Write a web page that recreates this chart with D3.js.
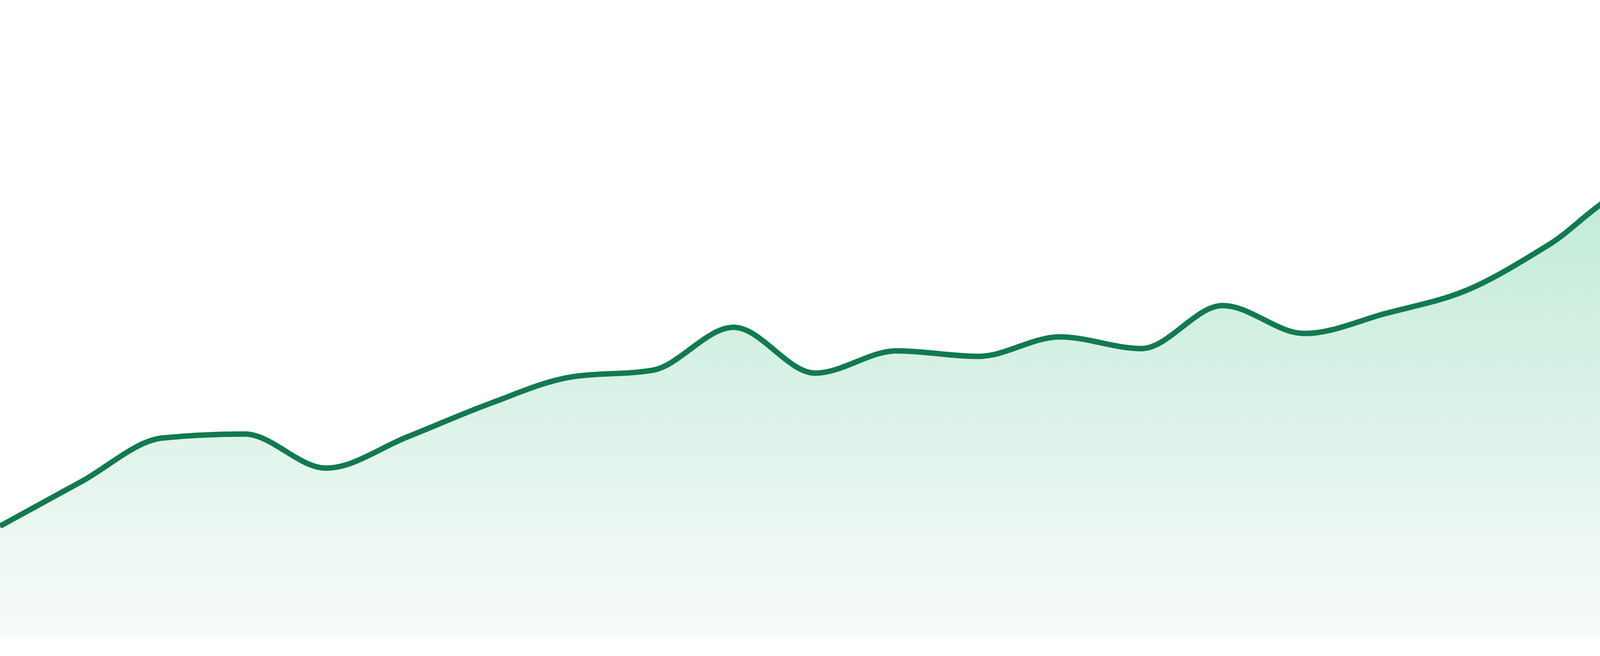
<!DOCTYPE html>
<html>
<head>
<meta charset="utf-8">
<script src="https://cdn.jsdelivr.net/npm/d3@7"></script>
<style>
  html, body { margin: 0; padding: 0; background: #fff; overflow: hidden; }
  svg { display: block; }
</style>
</head>
<body>
<svg id="chart" width="4800" height="1680"></svg>
<script>
const width = 4800
const height = 1680

// one value per step (0..100 scale)
const steps = d3.range(24)
const values = [
  19.9, 27.9, 35.7, 36.4, 30.3, 35.9, 41.8, 46.6,
  47.8, 55.5, 47.3, 51.3, 50.3, 53.8, 51.7, 59.4,
  54.4, 58.0, 62.2, 70.3, 80.0, 81.0, 86.7, 100,
]
const yDomain = [0, 100]

const lineColor = '#127a50'
const fillTop = '#b3e6cf'
const fillBottom = '#f8fbfa'

const x = d3.scaleLinear()
  .domain(d3.extent(steps))
  .range([0, width])

const y = d3.scaleLinear()
  .domain(yDomain)
  .range([1632, 202])

const points = steps.map((s, i) => ({ step: s, value: values[i] }))

const svg = d3.select('#chart')

const grad = svg.append('defs')
  .append('linearGradient')
  .attr('id', 'fade')
  .attr('gradientUnits', 'userSpaceOnUse')
  .attr('x1', 0).attr('x2', 0)
  .attr('y1', y(yDomain[1])).attr('y2', y(yDomain[0]))

grad.append('stop').attr('offset', '0%').attr('stop-color', fillTop)
grad.append('stop').attr('offset', '100%').attr('stop-color', fillBottom)

const area = d3.area()
  .x(d => x(d.step))
  .y0(y(yDomain[0]))
  .y1(d => y(d.value))
  .curve(d3.curveMonotoneX)

const line = d3.line()
  .x(d => x(d.step))
  .y(d => y(d.value))
  .curve(d3.curveMonotoneX)

svg.append('path')
  .datum(points)
  .attr('d', area)
  .attr('fill', 'url(#fade)')

svg.append('path')
  .datum(points)
  .attr('d', line)
  .attr('fill', 'none')
  .attr('stroke', lineColor)
  .attr('stroke-width', 14)
  .attr('stroke-linejoin', 'round')
</script>
</body>
</html>
